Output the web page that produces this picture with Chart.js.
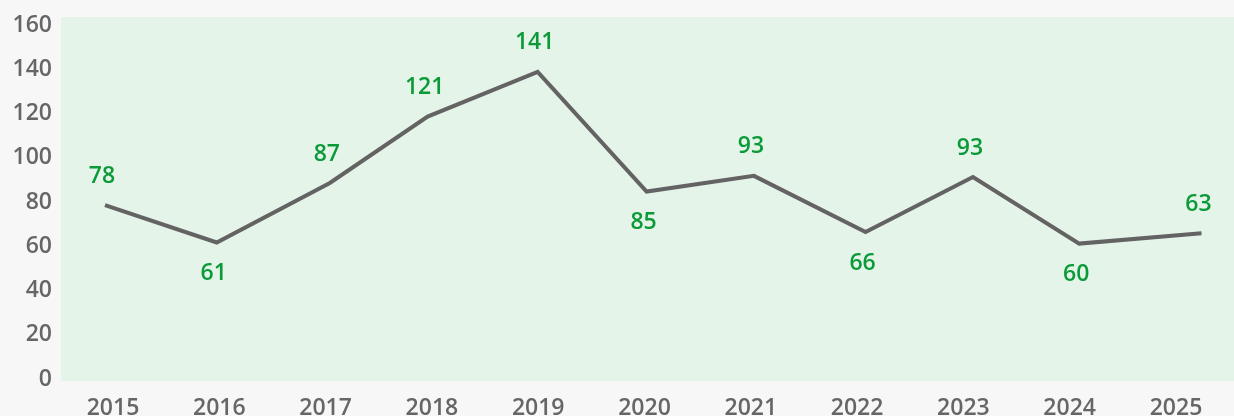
<!DOCTYPE html>
<html lang="en">
<head>
  <meta charset="UTF-8" />
  <title>Yearly line</title>
  <script src="https://cdn.jsdelivr.net/npm/chart.js@4.4.1/dist/chart.umd.min.js"></script>
  <style>
    html, body { margin: 0; padding: 0; background: #f7f7f7; }
    #wrap { width: 1234px; height: 416px; }
  </style>
</head>
<body>
  <div id="wrap"><canvas id="lineChart"></canvas></div>

  <script>
    // data
    const years = [2015, 2016, 2017, 2018, 2019, 2020, 2021, 2022, 2023, 2024, 2025];
    const yearPos = [2014.925, 2015.976, 2017.04, 2017.96, 2018.995, 2020.02, 2021.03, 2022.08, 2023.09, 2024.09, 2025.24];
    const values = [78.6, 61.7, 88.6, 118.6, 138.8, 84.7, 91.8, 66.4, 91.3, 61.2, 65.9];
    const shownValues = [78, 61, 87, 121, 141, 85, 93, 66, 93, 60, 63];
    const labelSide = ['up', 'down', 'up', 'up', 'up', 'down', 'up', 'down', 'up', 'down', 'up'];
    const yTicks = [0, 20, 40, 60, 80, 100, 120, 140, 160];

    const FONT = "'Open Sans', 'Noto Sans', sans-serif";

    // light green panel behind the plot
    const panelBg = {
      id: 'panelBg',
      beforeDraw(chart) {
        const { ctx, chartArea: a } = chart;
        ctx.save();
        ctx.fillStyle = '#e5f4e9';
        ctx.fillRect(a.left, a.top - 8, chart.width - a.left, a.bottom - a.top + 10);
        ctx.restore();
      }
    };

    // green value labels above / below each point
    const valueLabels = {
      id: 'valueLabels',
      afterDatasetsDraw(chart) {
        const { ctx } = chart;
        const pts = chart.getDatasetMeta(0).data;
        ctx.save();
        ctx.font = `600 23px ${FONT}`;
        ctx.fillStyle = '#0b9a38';
        ctx.textAlign = 'center';
        ctx.textBaseline = 'middle';
        pts.forEach((p, i) => {
          const dy = labelSide[i] === 'up' ? -29 : 31;
          ctx.fillText(String(shownValues[i]), p.x - 3, p.y + dy);
        });
        ctx.restore();
      }
    };

    new Chart(document.getElementById('lineChart'), {
      type: 'line',
      data: {
        datasets: [{
          data: years.map((y, i) => ({ x: yearPos[i], y: values[i] })),
          borderColor: '#636363',
          borderWidth: 4,
          pointRadius: 0,
          tension: 0,
          fill: false
        }]
      },
      options: {
        responsive: true,
        maintainAspectRatio: false,
        animation: false,
        layout: { padding: { top: 25, right: 7, left: 0, bottom: 0 } },
        plugins: { legend: { display: false }, tooltip: { enabled: false } },
        scales: {
          x: {
            type: 'linear',
            min: 2014.511,
            max: 2025.48,
            grid: { display: false, drawTicks: false },
            border: { display: false },
            afterBuildTicks: s => { s.ticks = years.map(v => ({ value: v })); },
            afterFit: s => { s.height = 37; },
            ticks: {
              padding: 16,
              color: '#666666',
              font: { family: FONT, size: 23, weight: '600' },
              callback: v => String(v)
            }
          },
          y: {
            min: 0,
            max: 160,
            grid: { display: false, drawTicks: false },
            border: { display: false },
            afterBuildTicks: s => { s.ticks = yTicks.map(v => ({ value: v })); },
            afterFit: s => { s.width = 61; },
            ticks: {
              padding: 9,
              color: '#666666',
              font: { family: FONT, size: 23, weight: '600' }
            }
          }
        }
      },
      plugins: [panelBg, valueLabels]
    });
  </script>
</body>
</html>
